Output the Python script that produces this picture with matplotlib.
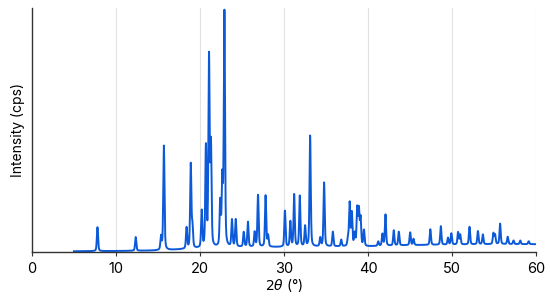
import numpy as np
import matplotlib

matplotlib.use("Agg")
from matplotlib import pyplot as plt

plt.rcParams['font.family'] = ['Inter', 'DejaVu Sans']
plt.rcParams['mathtext.fontset'] = 'dejavusans'

# peak positions (2theta, deg) and heights (% of axis height)
peak_pos = [7.8, 12.35, 15.36, 15.7, 18.4, 18.9, 19.1, 20.2, 20.7, 21.07, 21.3,
            22.4, 22.65, 22.9, 23.8, 24.25, 25.2, 25.7, 26.5, 26.9, 27.8, 28.1,
            30.1, 30.75, 31.2, 31.87, 32.5, 33.1, 34.3, 34.76, 35.8, 36.8,
            37.6, 37.8, 38.06, 38.4, 38.7, 38.9, 39.1, 39.5, 41.2, 41.7, 42.06,
            43.05, 43.65, 45.0, 45.4, 47.4, 48.65, 49.5, 49.9, 50.7, 50.95,
            52.06, 53.06, 53.65, 54.9, 55.1, 55.7, 56.6, 57.3, 58.1, 59.1]
peak_height = [9.8, 5.6, 5.4, 42.8, 8.6, 34.5, 8.5, 15.0, 41.0, 77.5, 41.0,
               18.0, 27.0, 96.0, 11.0, 11.2, 6.0, 10.2, 6.0, 21.2, 21.0, 4.5,
               14.8, 10.3, 21.4, 20.8, 8.3, 45.5, 3.5, 26.2, 6.0, 2.7,
               3.0, 17.6, 13.5, 5.0, 15.2, 14.5, 11.3, 6.5, 1.8, 4.8, 12.8,
               6.2, 5.6, 5.2, 2.5, 6.4, 7.6, 2.8, 4.6, 5.0, 4.0,
               7.2, 5.4, 4.0, 4.4, 3.8, 8.4, 3.0, 1.5, 1.5, 1.2]

# background level under the peaks
bg_pos = [5, 10, 15, 20, 25, 30, 35, 40, 45, 50, 55, 60]
bg_level = [0.3, 0.4, 0.6, 1.4, 2.0, 2.0, 2.2, 2.3, 2.8, 3.0, 3.2, 3.2]

two_theta = np.linspace(5, 59.9, 5000)
fwhm = 0.17
intensity = np.interp(two_theta, bg_pos, bg_level)
for p, h in zip(peak_pos, peak_height):
    g = np.exp(-4 * np.log(2) * ((two_theta - p) / fwhm) ** 2)
    l = 1 / (1 + 4 * ((two_theta - p) / fwhm) ** 2)
    intensity += h * (0.6 * g + 0.4 * l)

fig = plt.figure(figsize=(5.5, 2.97), dpi=100)
ax = fig.add_axes([0.058, 0.1515, 0.917, 0.8215])

ax.plot(two_theta, intensity, color='#0d5ad8', lw=1.4)

ax.set_xlim(0, 60)
ax.set_ylim(0, 100)
ax.set_xticks(range(0, 61, 10))
ax.set_yticks([])
for x in range(10, 61, 10):
    ax.axvline(x, color='#e2e2e2', lw=0.8, zorder=0)

for s in ['top', 'right']:
    ax.spines[s].set_visible(False)
for s in ['left', 'bottom']:
    ax.spines[s].set_color('#333333')
    ax.spines[s].set_linewidth(1.0)
ax.tick_params(axis='x', length=3, color='#333333', labelsize=10.5, pad=4)

ax.set_xlabel(r'$2\theta$ (°)', fontsize=10, labelpad=1)
ax.set_ylabel('Intensity (cps)', fontsize=10, labelpad=5)

fig.savefig('out.png', dpi=100)
